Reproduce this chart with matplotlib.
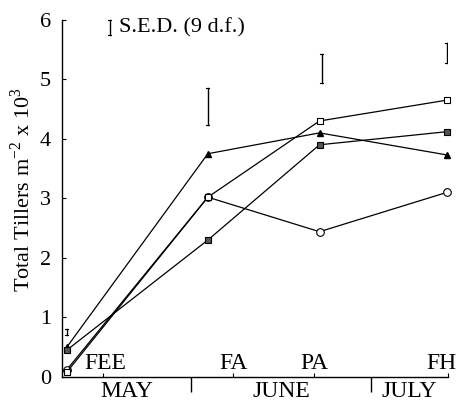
import matplotlib
matplotlib.use('Agg')
import matplotlib.pyplot as plt
import matplotlib.transforms as mtransforms

plt.rcParams['font.family'] = ['Liberation Serif', 'DejaVu Serif']
plt.rcParams['mathtext.fontset'] = 'custom'
plt.rcParams['mathtext.rm'] = 'Liberation Serif'

# sampling dates, days from 1 May
days = [10.3, 33.8, 52.4, 73.6]

# total tillers (x 10^3 per m^2)
open_circle = [0.12, 3.02, 2.44, 3.10]
open_square = [0.08, 3.02, 4.30, 4.65]
filled_tri = [0.50, 3.75, 4.10, 3.73]
grey_square = [0.45, 2.30, 3.90, 4.12]

# S.E.D. bars
sed_x = [10.3, 33.8, 52.8, 73.6]
sed_lo = [0.71, 4.24, 4.93, 5.28]
sed_hi = [0.81, 4.86, 5.43, 5.61]

stages = ['FEE', 'FA', 'PA', 'FH']
stage_days = [16.3, 38.0, 51.5, 73.8]
months = ['MAY', 'JUNE', 'JULY']
month_mid = [20.25, 46.0, 67.4]
month_edges = [31, 61]

fig = plt.figure(figsize=(4.59, 4.04), dpi=100)
ax = fig.add_axes([0.135, 0.067, 0.841, 0.884])

lw = 0.9
ax.plot(days, open_circle, color='black', lw=lw, marker='o', ms=5.5,
        mfc='white', mec='black', mew=0.8, clip_on=False, zorder=3)
ax.plot(days, open_square, color='black', lw=lw, marker='s', ms=5,
        mfc='white', mec='black', mew=0.8, clip_on=False, zorder=3)
ax.plot(days, filled_tri, color='black', lw=lw, marker='^', ms=5,
        mfc='black', mec='black', clip_on=False, zorder=3)
ax.plot(days, grey_square, color='black', lw=lw, marker='s', ms=5,
        mfc='#555555', mec='black', mew=0.8, clip_on=False, zorder=3)

# S.E.D. bars
for x, lo, hi in zip(sed_x, sed_lo, sed_hi):
    ax.plot([x, x], [lo, hi], color='black', lw=1.0)
    ax.plot([x - 0.25, x + 0.25], [lo, lo], color='black', lw=0.8)
    ax.plot([x - 0.25, x + 0.25], [hi, hi], color='black', lw=0.8)

# key
ax.plot([17.5, 17.5], [5.75, 6.0], color='black', lw=1.0, clip_on=False)
ax.plot([17.25, 17.75], [5.75, 5.75], color='black', lw=0.8, clip_on=False)
ax.plot([17.25, 17.75], [6.0, 6.0], color='black', lw=0.8, clip_on=False)
ax.text(19.0, 5.87, 'S.E.D. (9 d.f.)', fontsize=16, va='center', ha='left')

ax.set_xlim(9.5, 73.8)
ax.set_ylim(0, 6)
ax.spines['top'].set_visible(False)
ax.spines['right'].set_visible(False)
ax.spines['left'].set_linewidth(1.0)
ax.spines['bottom'].set_linewidth(1.0)

ax.set_yticks(range(7))
ax.tick_params(axis='y', direction='in', length=3, labelsize=16, pad=8)
ax.set_ylabel('Total Tillers m$^{-2}$ x 10$^{3}$', fontsize=16)
ax.yaxis.set_label_coords(-0.07, 0.525)

ax.set_xticks(stage_days)
ax.set_xticklabels([])
ax.tick_params(axis='x', which='major', direction='in', length=3)
ax.set_xticks(month_edges, minor=True)
ax.tick_params(axis='x', which='minor', direction='out', length=11, width=1.0)

trans = mtransforms.blended_transform_factory(ax.transData, ax.transAxes)
offs = [2, 0, 0, -5]
for s, d, o in zip(stages, stage_days, offs):
    ax.annotate(s, xy=(d, 0), xycoords=trans, xytext=(o, 6),
                textcoords='offset points', ha='center', va='baseline',
                fontsize=17, annotation_clip=False)
for m, d in zip(months, month_mid):
    ax.annotate(m, xy=(d, 0), xycoords=trans, xytext=(0, -3),
                textcoords='offset points', ha='center', va='top',
                fontsize=17, annotation_clip=False)

plt.savefig('out.png', dpi=100)
